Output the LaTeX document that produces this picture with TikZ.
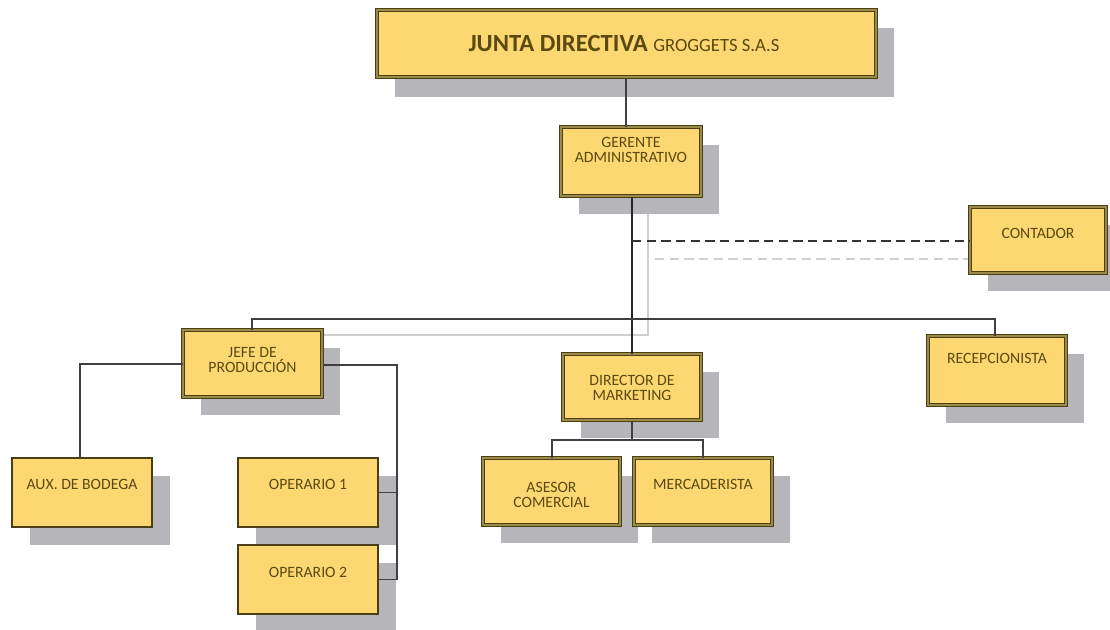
\documentclass[tikz,border=0pt]{standalone}
\usepackage{fontspec}
\setmainfont{Carlito}
\usetikzlibrary{fit}
\definecolor{boxfill}{HTML}{FDD872}
\definecolor{boxedge}{HTML}{4A3E12}
\definecolor{boxmid}{HTML}{9C8B48}
\definecolor{txtcol}{HTML}{5A4A10}
\definecolor{shadowgray}{HTML}{B6B6BA}
\definecolor{ghost}{HTML}{CFCFCF}
\tikzset{
  heavybox/.style={fill=boxfill, draw=boxedge, line width=0.75pt, double=boxmid, double distance=1.1pt, inner sep=0pt},
  lightbox/.style={fill=boxfill, draw=boxedge, line width=1.1pt, inner sep=0pt},
  label text/.style={text=txtcol, font=\fontsize{11.8}{11.6}\selectfont, align=center, anchor=north, inner sep=0pt},
  link/.style={draw=black!75, line width=0.9pt},
  ghostlink/.style={draw=ghost, line width=0.9pt},
}
% \orgunit{style}{name}{x1}{y1}{x2}{y2}{text y}{text}
\newcommand{\orgunit}[8]{%
  \fill[shadowgray] ({#3+18},{#4+18}) rectangle ({#5+18},{#6+18});
  \node[#1, fit={(#3,#4) (#5,#6)}] (#2) {};
  \node[label text] (#2-t) at ({(#3+#5)/2},#7) {#8};
}
\begin{document}
\begin{tikzpicture}[x=0.75pt, y=-0.75pt]
\useasboundingbox[fill=white] (0,0) rectangle (1110,629);

% faint guide lines behind the chart
\draw[ghostlink] (648,198) -- (648,335) -- (322,335);
\draw[ghostlink, dashed, dash pattern=on 7pt off 4pt] (655,259) -- (970,259);

% top of the chart
\fill[shadowgray] (395,28) rectangle (894,97);
\node[heavybox, fit={(377,10) (876,77)}] (junta) {};
\node[text=txtcol, anchor=center, inner sep=0pt] (junta-t) at (624,43)
  {\fontsize{18.5}{20}\selectfont\bfseries JUNTA DIRECTIVA \fontsize{14}{16}\selectfont\mdseries GROGGETS S.A.S};

\orgunit{heavybox}{gerente}{561}{127}{701}{196}{137}{GERENTE\\ADMINISTRATIVO}
\orgunit{heavybox}{contador}{970}{207}{1106}{273}{228}{CONTADOR}
\orgunit{heavybox}{jefe}{183}{330}{322}{397}{347}{JEFE DE\\PRODUCCIÓN}
\orgunit{heavybox}{director}{563}{354}{701}{420}{375}{DIRECTOR DE\\MARKETING}
\orgunit{heavybox}{recep}{928}{336}{1066}{405}{353}{RECEPCIONISTA}
\orgunit{lightbox}{aux}{12}{458}{152}{527}{479}{AUX. DE BODEGA}
\orgunit{lightbox}{op1}{238}{458}{378}{527}{479}{OPERARIO 1}
\orgunit{lightbox}{op2}{238}{545}{378}{614}{567}{OPERARIO 2}
\orgunit{heavybox}{asesor}{483}{458}{620}{525}{482}{ASESOR\\COMERCIAL}
\orgunit{heavybox}{merca}{634}{458}{772}{525}{479}{MERCADERISTA}

% reporting lines
\coordinate (bus) at (632,319);
\coordinate (mkt) at (632,440);
\coordinate (prodR) at (397,365);

\draw[link] (junta.south -| 626,0) -- (gerente.north -| 626,0);
\draw[draw=black!85, line width=1.1pt] (gerente.south -| bus) -- (director.north -| bus);
\draw[link] (jefe.north -| 252,0) |- (bus) -| (recep.north -| 995,0);
\draw[draw=black!80, line width=1pt, dashed, dash pattern=on 7pt off 4pt] (632,241) -- (contador.west |- 0,241);

\draw[link] (jefe.west |- 0,364) -| (aux.north -| 80,0);
\draw[link] (jefe.east |- prodR) -- (prodR) |- (op2.east);
\draw[link] (op1.east) -- (op1.east -| prodR);

\draw[link] (director.south -| mkt) -- (mkt);
\draw[link] (asesor.north -| 552,0) |- (mkt) -| (merca.north -| 703,0);
\end{tikzpicture}
\end{document}
